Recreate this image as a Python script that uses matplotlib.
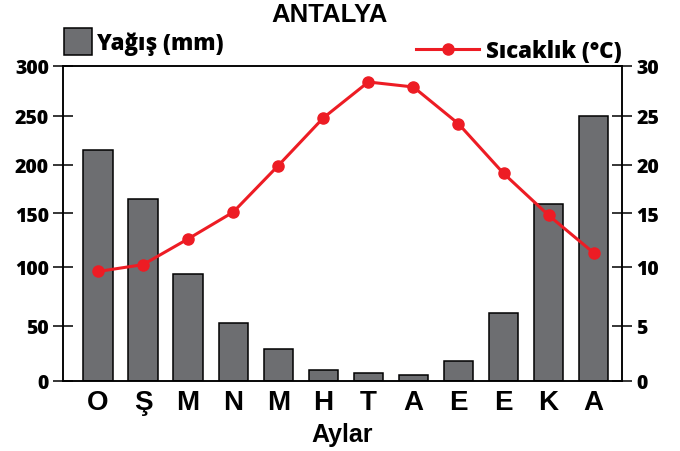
""" Antalya climate chart: monthly rainfall bars with temperature line.
"""

import numpy as np
import matplotlib
matplotlib.use('Agg')
import matplotlib.pyplot as plt

# data
months = ['O', 'Ş', 'M', 'N', 'M', 'H', 'T', 'A', 'E', 'E', 'K', 'A']
yagis = [215, 165, 94, 52, 29, 10, 7, 5, 18, 61, 159, 250]
sicaklik = [9.6, 10.2, 12.6, 15.1, 19.9, 24.8, 28.4, 27.9, 24.2, 19.1, 14.8, 11.3]

yagis_ticks = [0, 50, 100, 150, 200, 250, 300]
sicaklik_ticks = [0, 5, 10, 15, 20, 25, 30]

# layout of the reference, in pixels
W, H = 680, 452
AX_L, AX_R, AX_T, AX_B = 63, 622, 67, 382
# the axis in the original is not evenly spaced: pixel row of each tick
TICK_ROWS = [382, 326.7, 267.7, 214, 165.5, 116.8, 66.8]

RED = '#ED1C24'
GREY = '#6D6E71'


def piecewise_scale(vals, rows):
    """ Build forward/inverse functions that map tick values onto the
    measured tick rows, linear in between and beyond.
    """
    vals = np.asarray(vals, float)
    heights = AX_B - np.asarray(rows, float)
    lo = (heights[1] - heights[0]) / (vals[1] - vals[0])
    hi = (heights[-1] - heights[-2]) / (vals[-1] - vals[-2])
    big = 1e6
    v = np.r_[vals[0] - big, vals, vals[-1] + big]
    h = np.r_[heights[0] - big * lo, heights, heights[-1] + big * hi]
    return (lambda x: np.interp(x, v, h)), (lambda y: np.interp(y, h, v))


def main():
    plt.rcParams['font.family'] = ['Open Sans', 'DejaVu Sans']
    plt.rcParams['font.weight'] = 'heavy'

    fig = plt.figure(figsize=(W / 100, H / 100), dpi=100)
    ax = fig.add_axes([AX_L / W, 1 - AX_B / H, (AX_R - AX_L) / W, (AX_B - AX_T) / H])

    x = np.arange(len(months))
    bars = ax.bar(x, yagis, width=0.65, color=GREY, edgecolor='black',
                  linewidth=1.1, label='Yağış (mm)', zorder=2)

    ax.set_yscale('function', functions=piecewise_scale(yagis_ticks, TICK_ROWS))
    ax.set_ylim(0, 300)
    ax.set_yticks(yagis_ticks)
    ax.set_xlim(-0.777, 11.63)
    ax.set_xticks(x)
    ax.set_xticklabels(months, fontfamily='Liberation Sans', fontweight='bold',
                       fontsize=20)
    ax.tick_params(axis='x', length=0, pad=6)
    ax.tick_params(axis='y', direction='inout', length=14.5, width=1.1,
                   pad=3, labelsize=14)
    ax.set_xlabel('Aylar', fontfamily='Liberation Sans', fontweight='bold',
                  fontsize=18, labelpad=5)

    ax2 = ax.twinx()
    line, = ax2.plot(x, sicaklik, color=RED, lw=2.2, marker='o', ms=8,
                     label='Sıcaklık (°C)', zorder=3)
    ax2.set_yscale('function', functions=piecewise_scale(sicaklik_ticks, TICK_ROWS))
    ax2.set_ylim(0, 30)
    ax2.set_yticks(sicaklik_ticks)
    ax2.tick_params(axis='y', direction='inout', length=14.5, width=1.1,
                    pad=3, labelsize=14)

    for a in (ax, ax2):
        for s in a.spines.values():
            s.set_linewidth(1.1)

    # legends sit above the plot, one on each side
    fig.legend(handles=[bars], loc='upper left',
               bbox_to_anchor=(64 / W, 1 - 29 / H), frameon=False,
               borderpad=0, borderaxespad=0, handlelength=1.28,
               handleheight=1.5, handletextpad=0.2, fontsize=16)
    fig.legend(handles=[line], loc='upper right',
               bbox_to_anchor=(622 / W, 1 - 40 / H), frameon=False,
               borderpad=0, borderaxespad=0, handlelength=2.84,
               handletextpad=0.32, fontsize=16)

    fig.text(330 / W, 1 - 22 / H, 'ANTALYA', ha='center', va='baseline',
             fontfamily='Liberation Sans', fontweight='bold', fontsize=18.5)

    fig.savefig('out.png', dpi=100)


if __name__ == "__main__":
    main()
